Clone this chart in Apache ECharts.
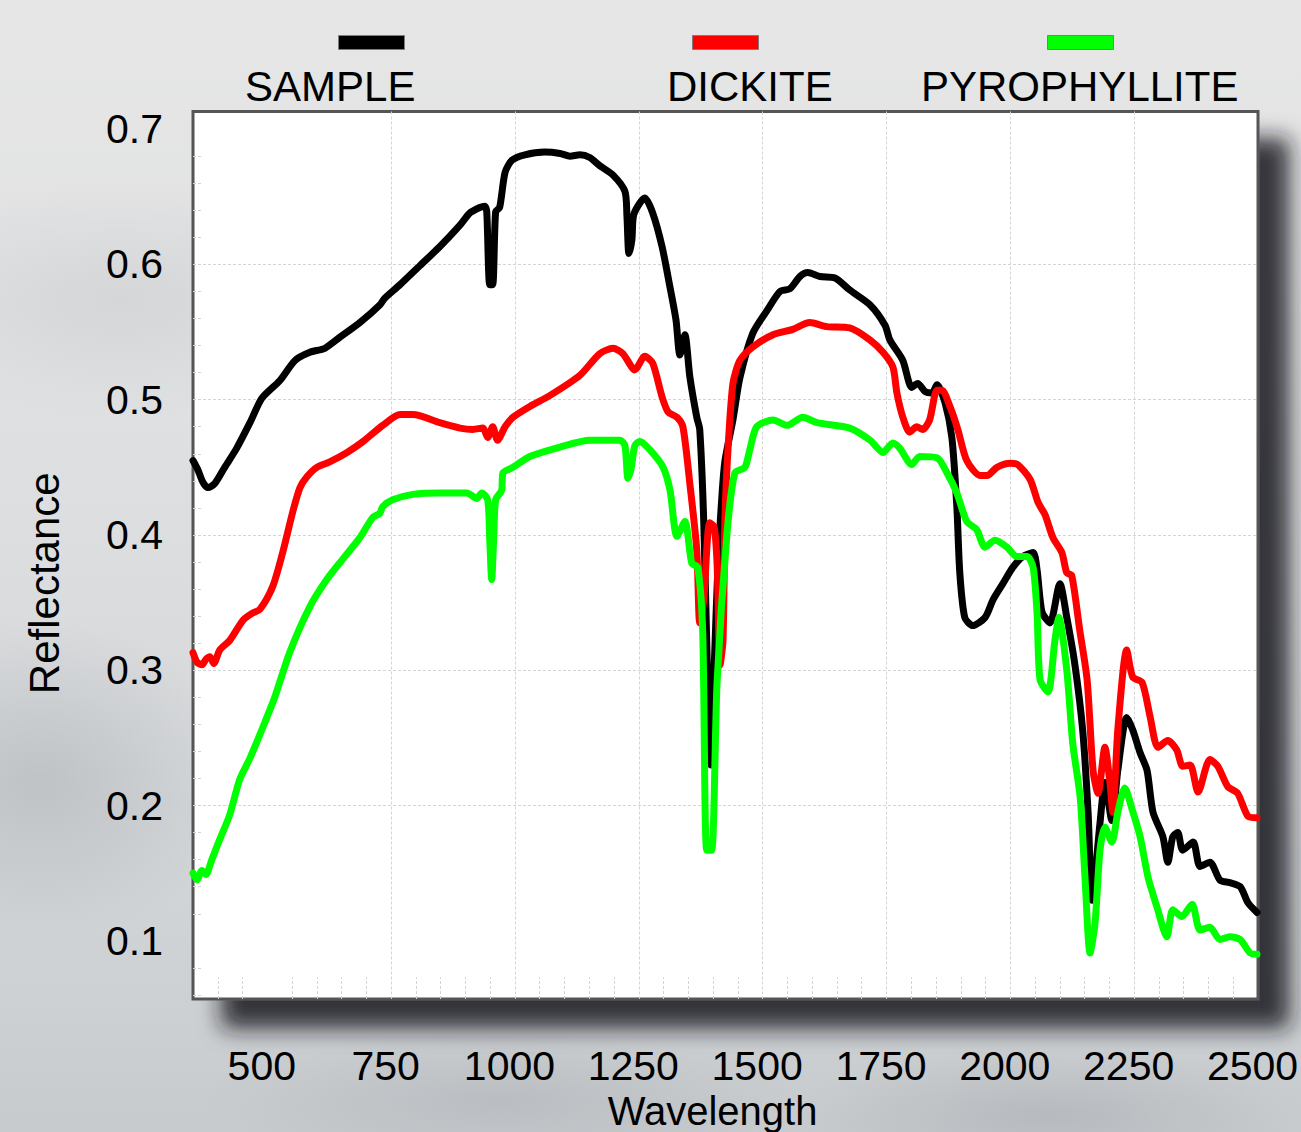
<!DOCTYPE html>
<html>
<head>
<meta charset="utf-8">
<script src="https://cdn.jsdelivr.net/npm/echarts@6/dist/echarts.min.js"></script>
<style>
html,body{margin:0;padding:0;}
body{
  width:1301px;height:1132px;overflow:hidden;
  background:
    radial-gradient(ellipse 200px 160px at 40px 780px, rgba(150,156,162,0.35), rgba(150,156,162,0)),
    radial-gradient(ellipse 260px 120px at 120px 300px, rgba(180,184,188,0.3), rgba(180,184,188,0)),
    radial-gradient(ellipse 300px 70px at 500px 1100px, rgba(150,154,160,0.3), rgba(150,154,160,0)),
    radial-gradient(ellipse 260px 70px at 1050px 1115px, rgba(140,144,150,0.3), rgba(140,144,150,0)),
    linear-gradient(180deg,#e6e6e6 0%,#e1e2e3 30%,#d8dadc 60%,#cfd2d4 85%,#c8cbce 100%);
}
#chart{width:1301px;height:1132px;}
</style>
</head>
<body>
<div id="chart"></div>
<script>
// ---- data (wavelength nm, reflectance) ----
const seriesNames = ['SAMPLE', 'DICKITE', 'PYROPHYLLITE'];

const sample = [
[350,0.455],[360,0.448],[370,0.439],[380,0.435],[394,0.438],[414,0.450],[438,0.464],[465,0.483],
[489,0.501],[525,0.514],[556,0.529],[586,0.535],[616,0.538],[646,0.546],[687,0.557],[727,0.570],
[737,0.575],[768,0.585],[808,0.599],[848,0.613],[889,0.629],[909,0.638],[929,0.642],[939,0.643],
[943,0.639],[949,0.585],[955,0.585],[961,0.639],[969,0.642],[980,0.668],[994,0.677],[1020,0.681],
[1060,0.683],[1091,0.682],[1111,0.680],[1131,0.681],[1151,0.679],[1171,0.673],[1198,0.666],[1222,0.654],
[1226,0.636],[1230,0.608],[1236,0.618],[1240,0.637],[1262,0.649],[1278,0.638],[1297,0.613],[1313,0.583],
[1325,0.559],[1333,0.533],[1343,0.548],[1353,0.517],[1367,0.487],[1373,0.478],[1381,0.411],[1387,0.322],
[1395,0.230],[1402,0.300],[1410,0.380],[1418,0.430],[1424,0.455],[1440,0.485],[1454,0.516],[1480,0.549],
[1509,0.566],[1535,0.580],[1555,0.582],[1575,0.591],[1591,0.594],[1616,0.591],[1646,0.590],[1676,0.581],
[1717,0.570],[1747,0.555],[1757,0.544],[1783,0.529],[1801,0.509],[1813,0.512],[1828,0.506],[1842,0.505],
[1852,0.511],[1868,0.498],[1882,0.472],[1892,0.421],[1898,0.372],[1908,0.339],[1924,0.333],[1949,0.339],
[1965,0.352],[1985,0.364],[2005,0.376],[2025,0.384],[2046,0.387],[2054,0.374],[2064,0.343],[2080,0.335],
[2100,0.364],[2114,0.339],[2130,0.305],[2146,0.256],[2157,0.195],[2165,0.130],[2181,0.187],[2191,0.217],
[2205,0.189],[2217,0.226],[2235,0.265],[2247,0.256],[2262,0.239],[2276,0.226],[2288,0.195],[2308,0.177],
[2318,0.158],[2328,0.177],[2338,0.180],[2348,0.167],[2369,0.173],[2383,0.155],[2403,0.158],[2423,0.145],
[2443,0.143],[2464,0.140],[2480,0.128],[2498,0.121]
];

const dickite = [
[350,0.313],[358,0.306],[368,0.304],[376,0.308],[384,0.310],[392,0.305],[404,0.315],[424,0.322],
[451,0.337],[469,0.342],[485,0.345],[511,0.362],[531,0.387],[552,0.418],[566,0.435],[580,0.443],
[600,0.450],[626,0.454],[661,0.461],[693,0.469],[733,0.481],[768,0.489],[794,0.489],[848,0.483],
[889,0.479],[915,0.478],[935,0.479],[945,0.472],[955,0.480],[965,0.470],[980,0.480],[996,0.487],
[1030,0.495],[1070,0.503],[1131,0.518],[1171,0.534],[1198,0.538],[1218,0.534],[1242,0.522],[1262,0.532],
[1278,0.527],[1297,0.502],[1309,0.491],[1327,0.487],[1339,0.480],[1353,0.438],[1367,0.389],[1373,0.335],
[1381,0.352],[1393,0.409],[1402,0.406],[1408,0.379],[1414,0.304],[1420,0.322],[1424,0.413],[1430,0.463],
[1440,0.512],[1454,0.529],[1480,0.539],[1521,0.548],[1561,0.552],[1595,0.557],[1630,0.554],[1676,0.553],
[1717,0.544],[1743,0.535],[1763,0.524],[1771,0.505],[1783,0.487],[1797,0.476],[1811,0.480],[1823,0.478],
[1837,0.485],[1852,0.507],[1862,0.507],[1878,0.495],[1894,0.478],[1912,0.455],[1939,0.444],[1953,0.444],
[1973,0.450],[2000,0.453],[2015,0.452],[2040,0.441],[2056,0.424],[2070,0.415],[2086,0.398],[2104,0.387],
[2114,0.372],[2124,0.370],[2140,0.330],[2155,0.293],[2167,0.226],[2177,0.209],[2191,0.243],[2201,0.217],
[2207,0.195],[2217,0.256],[2235,0.315],[2247,0.295],[2266,0.291],[2282,0.266],[2298,0.243],[2318,0.248],
[2336,0.241],[2348,0.229],[2363,0.230],[2379,0.210],[2403,0.234],[2419,0.229],[2439,0.214],[2459,0.209],
[2480,0.192],[2498,0.191]
];

const pyrophyllite = [
[350,0.150],[358,0.145],[368,0.152],[376,0.149],[388,0.160],[404,0.175],[424,0.193],[444,0.219],
[465,0.235],[489,0.256],[515,0.280],[545,0.313],[586,0.347],[620,0.367],[652,0.382],[687,0.398],
[713,0.413],[727,0.416],[733,0.421],[753,0.426],[794,0.430],[848,0.431],[903,0.431],[923,0.427],
[933,0.431],[945,0.426],[949,0.397],[953,0.367],[957,0.397],[961,0.426],[973,0.433],[976,0.446],
[996,0.450],[1030,0.458],[1091,0.465],[1151,0.470],[1212,0.470],[1222,0.466],[1228,0.442],[1234,0.448],
[1242,0.466],[1252,0.469],[1272,0.463],[1299,0.450],[1313,0.433],[1327,0.399],[1343,0.410],[1357,0.379],
[1369,0.376],[1379,0.328],[1387,0.167],[1397,0.167],[1408,0.291],[1428,0.401],[1444,0.446],[1464,0.450],
[1474,0.463],[1488,0.480],[1521,0.485],[1549,0.481],[1581,0.487],[1610,0.483],[1676,0.479],[1717,0.470],
[1743,0.461],[1763,0.468],[1777,0.464],[1801,0.452],[1817,0.458],[1852,0.457],[1872,0.446],[1892,0.431],
[1912,0.410],[1932,0.404],[1949,0.391],[1969,0.396],[1993,0.391],[2013,0.384],[2034,0.384],[2046,0.376],
[2054,0.342],[2060,0.293],[2076,0.284],[2090,0.322],[2098,0.339],[2114,0.300],[2126,0.246],[2141,0.206],
[2151,0.145],[2161,0.091],[2171,0.113],[2181,0.167],[2191,0.184],[2205,0.173],[2217,0.195],[2231,0.213],
[2246,0.197],[2262,0.177],[2278,0.147],[2296,0.125],[2316,0.103],[2328,0.123],[2346,0.118],[2367,0.127],
[2383,0.108],[2403,0.110],[2423,0.101],[2443,0.103],[2464,0.101],[2484,0.091],[2498,0.090]
];

// ---- ticks ----
const xMajorTicks = [500, 750, 1000, 1250, 1500, 1750, 2000, 2250, 2500];
const xMinorTicks = [400, 450, 550, 600, 650, 700, 800, 850, 900, 950, 1050, 1100, 1150, 1200,
  1300, 1350, 1400, 1450, 1550, 1600, 1650, 1700, 1800, 1850, 1900, 1950, 2050, 2100, 2150, 2200,
  2300, 2350, 2400, 2450];
const yMajorTicks = [0.1, 0.2, 0.3, 0.4, 0.5, 0.6, 0.7];
const yMinorTicks = [0.06, 0.08, 0.12, 0.14, 0.16, 0.18, 0.22, 0.24, 0.26, 0.28, 0.32, 0.34, 0.36, 0.38,
  0.42, 0.44, 0.46, 0.48, 0.52, 0.54, 0.56, 0.58, 0.62, 0.64, 0.66, 0.68];

const colors = ['#000000', '#ff0000', '#00ff00'];
const FONT = '"Liberation Sans", Arial, Helvetica, sans-serif';
const gridLine = { color: '#d4d4d4', type: [3, 2], width: 1 };

const chart = echarts.init(document.getElementById('chart'), null, { renderer: 'svg' });

const legendCommon = {
  icon: 'rect', itemWidth: 66, itemHeight: 14, padding: 0, selectedMode: false,
  formatter: function () { return ''; },
  itemStyle: { borderColor: '#7d7d7d', borderWidth: 1 },
  textStyle: { fontSize: 10 }
};

const titleStyle = { fontSize: 42, fontWeight: 'normal', color: '#000', fontFamily: FONT };

const option = {
  backgroundColor: 'transparent',
  animation: false,
  title: [
    { text: 'SAMPLE', left: 245, top: 65, padding: 0, textStyle: titleStyle },
    { text: 'DICKITE', left: 667, top: 65, padding: 0, textStyle: titleStyle },
    { text: 'PYROPHYLLITE', left: 921, top: 65, padding: 0, textStyle: titleStyle }
  ],
  legend: [
    Object.assign({ data: [seriesNames[0]], left: 338, top: 35 }, legendCommon),
    Object.assign({ data: [seriesNames[1]], left: 692, top: 35 }, legendCommon),
    Object.assign({ data: [seriesNames[2]], left: 1047, top: 35 }, legendCommon)
  ],
  grid: {
    left: 193, right: 43, top: 111.5, bottom: 133,
    outerBoundsMode: 'none', containLabel: false,
    show: true, backgroundColor: '#ffffff', borderColor: '#555555', borderWidth: 3,
    shadowColor: 'rgba(25,25,28,0.85)', shadowBlur: 22, shadowOffsetX: 30, shadowOffsetY: 28
  },
  xAxis: [
    {
      type: 'value', min: 350, max: 2500,
      axisLine: { show: false },
      axisTick: { show: false, customValues: xMajorTicks },
      axisLabel: {
        customValues: xMajorTicks, fontSize: 41, color: '#000', fontFamily: FONT,
        margin: 46, padding: [0, 11, 0, 0], formatter: v => String(v)
      },
      splitLine: { show: true, showMinLine: false, showMaxLine: false, lineStyle: gridLine },
      name: 'Wavelength', nameLocation: 'middle', nameGap: 86,
      nameTextStyle: { fontSize: 40, color: '#000', fontFamily: FONT, padding: [0, 26, 0, 0] }
    },
    {
      type: 'value', min: 350, max: 2500, position: 'bottom',
      axisLine: { show: false },
      axisTick: { show: true, inside: true, length: 22, customValues: xMinorTicks, lineStyle: gridLine },
      axisLabel: { show: false },
      splitLine: { show: false }
    }
  ],
  yAxis: [
    {
      type: 'value', min: 0.057, max: 0.713,
      axisLine: { show: false },
      axisTick: { show: false, customValues: yMajorTicks },
      axisLabel: {
        customValues: yMajorTicks, fontSize: 41, color: '#000', fontFamily: FONT,
        margin: 30, formatter: v => v.toFixed(1)
      },
      splitLine: { show: true, showMinLine: false, showMaxLine: false, lineStyle: gridLine },
      name: 'Reflectance', nameLocation: 'middle', nameGap: 128, nameRotate: 90,
      nameTextStyle: { fontSize: 42, color: '#000', fontFamily: FONT, padding: [0, 56, 0, 0] }
    },
    {
      type: 'value', min: 0.057, max: 0.713, position: 'left',
      axisLine: { show: false },
      axisTick: { show: true, inside: true, length: 10, customValues: yMinorTicks, lineStyle: gridLine },
      axisLabel: { show: false },
      splitLine: { show: false }
    }
  ],
  series: [sample, dickite, pyrophyllite].map((d, i) => ({
    name: seriesNames[i],
    type: 'line',
    data: d,
    xAxisIndex: 0, yAxisIndex: 0,
    symbol: 'none',
    clip: true,
    smooth: 0.25,
    color: colors[i],
    lineStyle: { color: colors[i], width: 7, cap: 'round', join: 'round' },
    z: 2 + i
  }))
};

chart.setOption(option);
</script>
</body>
</html>
